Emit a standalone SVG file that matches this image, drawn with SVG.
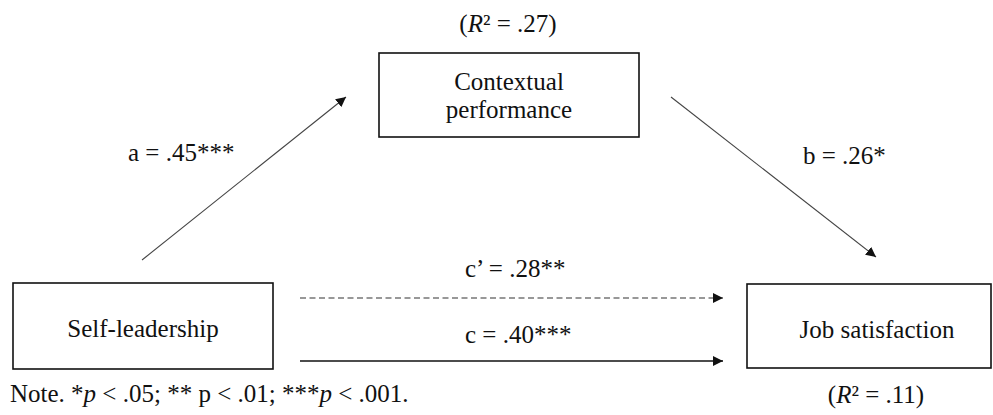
<svg xmlns="http://www.w3.org/2000/svg" width="993" height="415" viewBox="0 0 993 415">
<style>
  text { font-family: "Liberation Serif", "Times New Roman", serif; font-size: 25px; fill: #111; }
  .box { fill: #fff; stroke: #111; stroke-width: 1.6; }
  .diag { stroke: #444; stroke-width: 1.1; fill: none; }
  .solid { stroke: #111; stroke-width: 1.3; fill: none; }
  .dash { stroke: #777; stroke-width: 1.3; stroke-dasharray: 6 3.5; fill: none; }
  .mid { text-anchor: middle; }
</style>
<defs>
  <marker id="arr" viewBox="0 0 10 10" refX="10" refY="5" markerWidth="10" markerHeight="10" markerUnits="userSpaceOnUse" orient="auto">
    <path d="M0,0 L10,5 L0,10 Z" fill="#111"/>
  </marker>
</defs>
<rect width="993" height="415" fill="#fff"/>
<g id="contextual-performance">
  <text class="mid" x="508" y="32">(<tspan font-style="italic">R</tspan>² = .27)</text>
  <rect class="box" x="379" y="53" width="260" height="84"/>
  <text class="mid" x="509" y="90">Contextual</text>
  <text class="mid" x="509" y="118">performance</text>
</g>
<g id="self-leadership">
  <rect class="box" x="13" y="283" width="260" height="86"/>
  <text class="mid" x="143" y="337">Self-leadership</text>
</g>
<g id="job-satisfaction">
  <rect class="box" x="747" y="284" width="244" height="84"/>
  <text class="mid" x="877" y="338">Job satisfaction</text>
  <text class="mid" x="876" y="403">(<tspan font-style="italic">R</tspan>² = .11)</text>
</g>
<g id="connectors">
  <line class="diag" x1="142" y1="260" x2="346" y2="97" marker-end="url(#arr)"/>
  <line class="diag" x1="671" y1="97" x2="876" y2="257" marker-end="url(#arr)"/>
  <line class="dash" x1="300" y1="298" x2="723" y2="298" marker-end="url(#arr)"/>
  <line class="solid" x1="300" y1="361" x2="723" y2="361" marker-end="url(#arr)"/>
  <text x="128" y="161">a = .45***</text>
  <text x="803" y="164">b = .26*</text>
  <text x="465" y="277">c’ = .28**</text>
  <text x="465" y="343">c = .40***</text>
</g>
<g id="note">
  <text x="10" y="402">Note. *<tspan font-style="italic">p</tspan> &lt; .05; ** p &lt; .01; ***<tspan font-style="italic">p</tspan> &lt; .001.</text>
</g>
</svg>
